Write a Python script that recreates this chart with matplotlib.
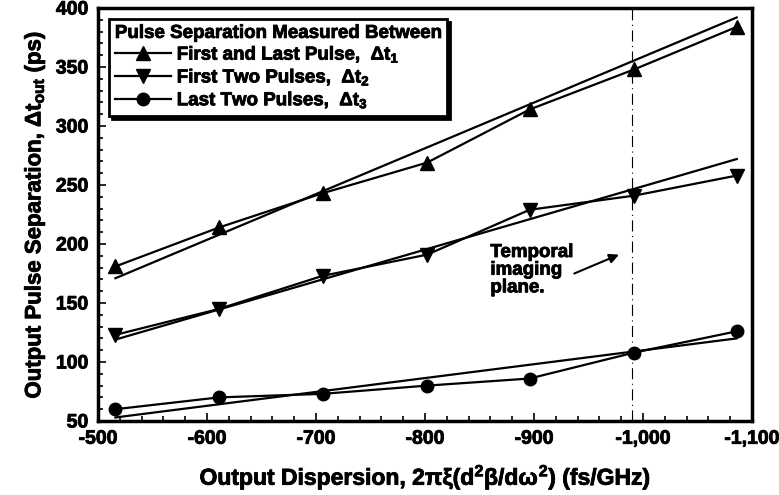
import numpy as np
import matplotlib
matplotlib.use("Agg")
import matplotlib.pyplot as plt
import matplotlib.patheffects as pe
from matplotlib.ticker import MultipleLocator, FuncFormatter

plt.rcParams['font.family'] = ['Liberation Sans', 'DejaVu Sans']
plt.rcParams['font.weight'] = 'bold'
plt.rcParams['mathtext.fontset'] = 'custom'
plt.rcParams['mathtext.rm'] = 'Liberation Sans:bold'
plt.rcParams['mathtext.it'] = 'Liberation Sans:bold'
plt.rcParams['mathtext.bf'] = 'Liberation Sans:bold'

# output dispersion (fs/GHz)
dispersion = [-516, -611, -706, -802, -896, -992, -1086]

# measured pulse separations (ps)
dt1 = [181, 214, 243, 269, 314, 348, 384]
dt2 = [123, 145, 173, 191, 229, 241, 258]
dt3 = [60, 70, 73, 80, 86, 108, 126]

# straight reference lines (end points)
fit_x = [-516, -1086]
fit_dt1 = [171, 392]
fit_dt2 = [119, 272]
fit_dt3 = [53, 120]

imaging_plane = -990

# slightly heavier text, the original uses a very bold face
heavy = [pe.withStroke(linewidth=0.6, foreground='black')]

fig = plt.figure(figsize=(7.79, 4.95), dpi=100)
ax = fig.add_axes([0.1258, 0.1495, 0.8395, 0.8343])

lw = 1.6
ax.plot(dispersion, dt1, '-^', color='black', lw=lw, ms=10.5,
        label=r'First and Last Pulse,  $\Delta$t$_1$')
ax.plot(dispersion, dt2, '-v', color='black', lw=lw, ms=10.5,
        label=r'First Two Pulses,  $\Delta$t$_2$')
ax.plot(dispersion, dt3, '-o', color='black', lw=lw, ms=9,
        label=r'Last Two Pulses,  $\Delta$t$_3$')
ax.plot(fit_x, fit_dt1, '-', color='black', lw=lw)
ax.plot(fit_x, fit_dt2, '-', color='black', lw=lw)
ax.plot(fit_x, fit_dt3, '-', color='black', lw=lw)

ax.axvline(imaging_plane, color='black', lw=0.8, ls=(0, (10, 4, 1, 4)))

ax.text(-860, 200, 'Temporal\nimaging\nplane.', fontsize=13.5,
        fontweight='bold', ha='left', va='top', linespacing=1.05,
        path_effects=heavy)
ax.annotate('', xy=(-978, 191), xytext=(-937, 175),
            arrowprops=dict(arrowstyle='-|>', color='black', lw=1.5,
                            mutation_scale=14, shrinkA=0, shrinkB=0))

ax.set_xlim(-500, -1100)
ax.set_ylim(50, 400)
ax.xaxis.set_major_locator(MultipleLocator(100))
ax.xaxis.set_minor_locator(MultipleLocator(20))
ax.yaxis.set_major_locator(MultipleLocator(50))
ax.yaxis.set_minor_locator(MultipleLocator(10))
ax.xaxis.set_major_formatter(FuncFormatter(lambda v, p: f'{int(v):,}'))
ax.tick_params(which='both', direction='in', width=1.2, labelsize=14, pad=7)
ax.tick_params(which='major', length=6)
ax.tick_params(which='minor', length=3.5)
for s in ax.spines.values():
    s.set_linewidth(2.5)

ax.set_xlabel(r'Output Dispersion, 2$\pi\xi$(d$^2\beta$/d$\omega^2$) (fs/GHz)',
              fontsize=16.5, fontweight='bold', labelpad=10)
ax.set_ylabel(r'Output Pulse Separation, $\Delta$t$_{out}$ (ps)',
              fontsize=16, fontweight='bold', labelpad=6)
ax.xaxis.label.set_path_effects(heavy)
ax.yaxis.label.set_path_effects(heavy)

leg = ax.legend(loc='upper left', title='Pulse Separation Measured Between',
                fontsize=13.5, title_fontproperties={'weight': 'bold', 'size': 13.5},
                alignment='left', handlelength=3.0, handletextpad=0.3,
                labelspacing=0.15, borderpad=0.3, borderaxespad=0.6,
                fancybox=False, framealpha=1,
                shadow={'facecolor': 'black', 'edgecolor': 'black', 'alpha': 1})
leg.get_frame().set_edgecolor('black')
leg.get_frame().set_linewidth(2)
for t in leg.get_texts() + [leg.get_title()]:
    t.set_path_effects(heavy)

fig.canvas.draw()
for t in ax.get_xticklabels() + ax.get_yticklabels():
    t.set_fontweight('bold')
    t.set_path_effects(heavy)

fig.savefig('out.png', dpi=100)
